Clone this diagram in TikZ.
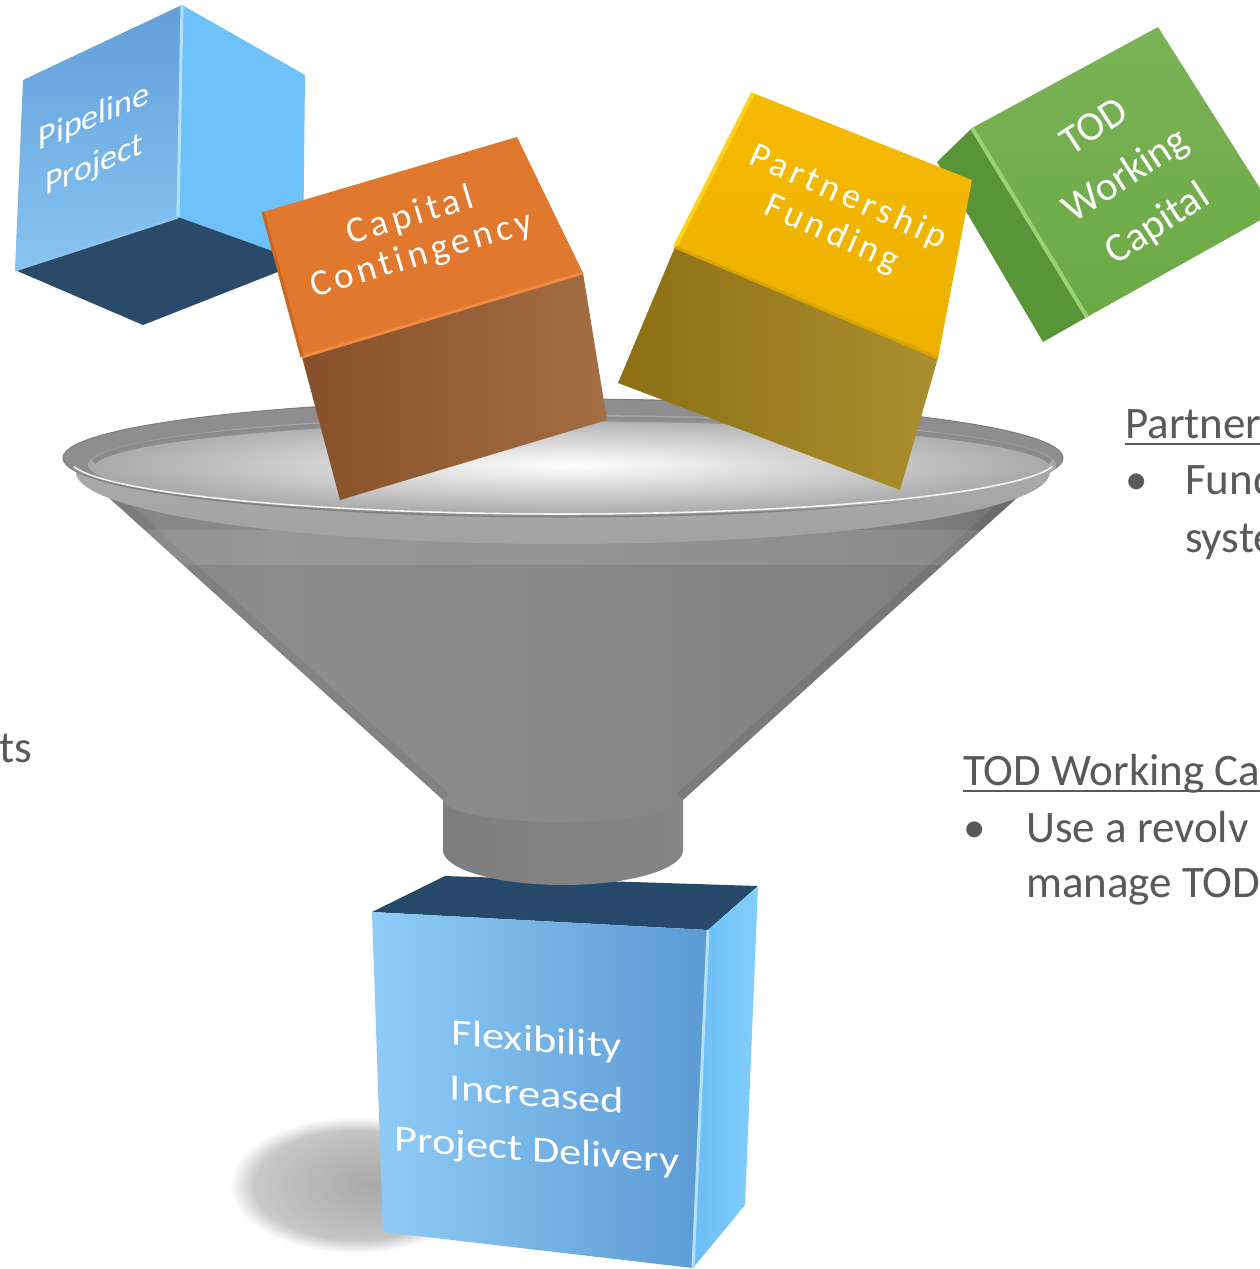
\documentclass[tikz,border=0pt]{standalone}
\usepackage{fontspec}
\setmainfont{Carlito}
\newfontfamily\spacedfont[LetterSpace=12,Ligatures={NoCommon}]{Carlito}
\usetikzlibrary{fadings}
\tikzfading[name=softblob, inner color=transparent!0, outer color=transparent!100]
\definecolor{pipeFT}{HTML}{629FD9}
\definecolor{pipeFB}{HTML}{87C4F3}
\definecolor{pipeR}{HTML}{6FC1FA}
\definecolor{pipeBot}{HTML}{2A4A69}
\definecolor{pipeE1}{HTML}{B3E2FF}
\definecolor{pipeE2}{HTML}{8CC4EF}
\definecolor{orTop}{HTML}{E0782E}
\definecolor{orFL}{HTML}{86502A}
\definecolor{orFR}{HTML}{A36E44}
\definecolor{orE1}{HTML}{EE8A42}
\definecolor{orE2}{HTML}{C9661F}
\definecolor{yeTT}{HTML}{F5BA00}
\definecolor{yeTB}{HTML}{ECB000}
\definecolor{yeFL}{HTML}{8C6F14}
\definecolor{yeFR}{HTML}{AA8F30}
\definecolor{yeE1}{HTML}{FFD21A}
\definecolor{yeE2}{HTML}{D9A400}
\definecolor{grF}{HTML}{6CAA45}
\definecolor{grL}{HTML}{5A9438}
\definecolor{grE}{HTML}{9CD274}
\definecolor{blTop}{HTML}{284A6A}
\definecolor{blFL}{HTML}{8FCCF7}
\definecolor{blFR}{HTML}{5B9AD4}
\definecolor{blRL}{HTML}{6CBCF6}
\definecolor{blRR}{HTML}{82CEFD}
\definecolor{txtGray}{HTML}{595959}
\definecolor{cA}{HTML}{6A6A6A}
\definecolor{cB}{HTML}{838383}
\definecolor{cC}{HTML}{8D8D8D}
\definecolor{cD}{HTML}{888888}
\definecolor{cE}{HTML}{808080}
\definecolor{cF}{HTML}{727272}
\definecolor{spL}{HTML}{7E7E7E}
\definecolor{spM}{HTML}{9C9C9C}
\definecolor{spR}{HTML}{858585}
\definecolor{bandT}{HTML}{B0B0B0}
\definecolor{bandB}{HTML}{A2A2A2}
\definecolor{rimE}{HTML}{8E8E8E}
\definecolor{rimM}{HTML}{CACACA}
\definecolor{rimO}{HTML}{7D7D7D}
\definecolor{inO}{HTML}{A8A8A8}
\pgfdeclarehorizontalshading{conesh}{100bp}{color(0bp)=(cA); color(25bp)=(cA); color(27bp)=(cB); color(35bp)=(cC); color(50bp)=(cD); color(68bp)=(cE); color(73bp)=(cF); color(75bp)=(cA); color(100bp)=(cA)}
\tikzset{
  cubetxt/.style={text=white, inner sep=0pt, align=center},
  sidetxt/.style={text=txtGray, font=\fontsize{45}{55}\selectfont, inner sep=0pt, anchor=base west},
  uline/.style={txtGray, line width=2pt}
}
\begin{document}
\begin{tikzpicture}[x=1pt,y=-1pt]
\useasboundingbox (0,0) rectangle (1260,1269);
\clip (0,0) rectangle (1260,1269);
\fill[white] (0,0) rectangle (1260,1269);

% soft shadow of the bottom cube
\fill[black, opacity=0.22, path fading=circle with fuzzy edge 20 percent] (355,1185) ellipse [x radius=125, y radius=68];
\fill[black, opacity=0.15, path fading=softblob] (370,1185) ellipse [x radius=110, y radius=60];

% bottom cube
\fill[blTop] (372,912) -- (445,876) -- (758,886) -- (708,930) -- cycle;
\shade[left color=blFL, right color=blFR] (372,912) -- (708,930) -- (693,1268) -- (383,1232) -- cycle;
\shade[left color=blRL, right color=blRR] (708,930) -- (758,886) -- (745,1205) -- (693,1268) -- cycle;
\draw[line width=3pt, color=blRR!60!white] (708,930) -- (693,1268);
\node[cubetxt, yslant=-0.08, xscale=1.2, font=\fontsize{37}{55}\selectfont] (flex) at (537,1097) {Flexibility\\Increased\\Project Delivery};

% funnel spout
\shade[left color=spL, middle color=spM, right color=spR] (443,795) -- plot[domain=180:0, samples=40] ({563+120*cos(\x)},{850+35*sin(\x)}) -- (683,795) -- cycle;
% cone
\shade[shading=conesh] (76,468) -- (443,800) -- plot[domain=180:0, samples=40] ({563+120*cos(\x)},{800+22*sin(\x)}) -- (1050,468) -- cycle;
\begin{scope}
\clip (76,468) -- (443,800) -- plot[domain=180:0, samples=40] ({563+120*cos(\x)},{800+22*sin(\x)}) -- (1050,468) -- cycle;
\draw[line width=18pt, black, opacity=0.06] (76,468) -- (443,800);
\draw[line width=18pt, black, opacity=0.07] (1050,468) -- (683,800);
\fill[white, opacity=0.10] (0,530) rectangle (1260,565);
\end{scope}
% band below rim
\shade[top color=bandT, bottom color=bandB] (563,472) ellipse [x radius=487, y radius=72];
% rim
\shade[left color=rimE, middle color=rimM, right color=rimE] (563,458) ellipse [x radius=500, y radius=59];
\draw[rimO, line width=1pt] (563,458) ellipse [x radius=500, y radius=59];
% interior
\shade[inner color=white, outer color=inO] (572,465) ellipse [x radius=484, y radius=50];
\draw[black, opacity=0.18, line width=5pt] plot[domain=185:355, samples=60] ({572+480*cos(\x)},{466+47*sin(\x)});
\draw[white, opacity=0.85, line width=1.6pt] plot[domain=8:172, samples=60] ({563+494*cos(\x)},{459+55*sin(\x)});

% green cube (behind yellow)
\fill[grL] (937,162) -- (972,128) -- (1087,317) -- (1043,342) -- cycle;
\shade[top color=grF!90!white, bottom color=grF] (972,128) -- (1158,27) -- (1275,212) -- (1087,317) -- cycle;
\draw[line width=4pt, color=grE] (972,128) -- (1087,317);
\node[cubetxt, rotate=33, font=\fontsize{41}{58}\selectfont] (todtxt) at (1127,177) {TOD\\Working\\Capital};

% pipeline cube
\shade[top color=pipeFT, bottom color=pipeFB] (23,80) -- (182,5) -- (178,217) -- (15,270) -- cycle;
\fill[pipeR] (182,5) -- (305,75) -- (303,262) -- (178,217) -- cycle;
\fill[pipeBot] (15,270) -- (178,217) -- (303,262) -- (143,325) -- cycle;
\draw[line width=3pt, color=pipeE1] (182,5) -- (178,217);
\draw[line width=3pt, color=pipeE2] (15,270) -- (178,217);
\node[cubetxt, yslant=0.43, font=\fontsize{34}{48}\selectfont] (pipetxt) at (94,142) {Pipeline\\Project};

% orange cube
\fill[orTop] (263,212) -- (517,137) -- (583,273) -- (302,357) -- cycle;
\shade[left color=orFL, right color=orFR] (302,357) -- (583,273) -- (607,420) -- (340,500) -- cycle;
\draw[line width=3pt, color=orE1] (302,357) -- (583,273);
\draw[line width=3pt, color=orE2] (263,212) -- (302,357);
\node[cubetxt, rotate=16.6, font=\spacedfont\fontsize{37}{40}\selectfont] (captxt) at (416,236) {Capital\\Contingency};

% yellow cube
\shade[top color=yeTT, bottom color=yeTB] (753,93) -- (972,180) -- (938,358) -- (675,247) -- cycle;
\shade[left color=yeFL, right color=yeFR] (675,247) -- (938,358) -- (900,490) -- (618,383) -- cycle;
\draw[line width=4pt, color=yeE1] (753,93) -- (675,247);
\draw[line width=3pt, color=yeE2] (675,247) -- (938,358);
\node[cubetxt, rotate=-24, font=\spacedfont\fontsize{36}{40}\selectfont] (partxt) at (840,216) {Partnership\\Funding};

% side texts
\node[sidetxt] (ptitle) at (1125,438) {Partner};
\draw[uline] ([yshift=-6pt]ptitle.base west) -- ([yshift=-6pt]ptitle.base east);
\node[sidetxt] (pbul) at (1125,494) {•};
\node[sidetxt] (pl1) at (1185,494) {Fund};
\node[sidetxt] (pl2) at (1185,552) {syste};

\node[sidetxt] (ttitle) at (963,785) {TOD Working Ca};
\draw[uline] ([yshift=-6pt]ttitle.base west) -- ([yshift=-6pt]ttitle.base east);
\node[sidetxt] (tbul) at (963,842) {•};
\node[sidetxt] (tl1) at (1026,842) {Use a revolv};
\node[sidetxt] (tl2) at (1026,897) {manage TOD};

\node[sidetxt] (lts) at (-1,762) {ts};
\end{tikzpicture}
\end{document}
